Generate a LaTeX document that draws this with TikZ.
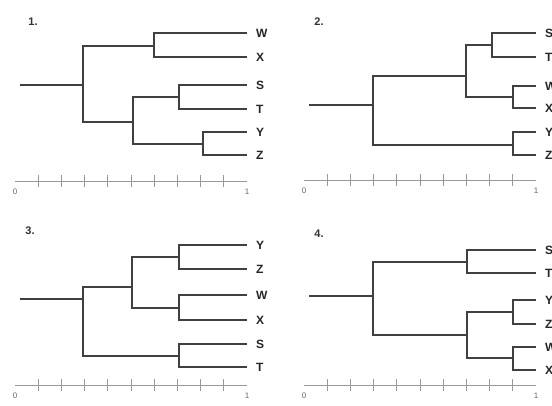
\documentclass[tikz,border=0pt]{standalone}
\usepackage{fontspec}
\setmainfont{Liberation Sans}
\begin{document}
\begin{tikzpicture}[x=1pt,y=-1pt,
  branch/.style={draw=black!75, line width=1.7pt},
  axisline/.style={draw=black!40, line width=0.9pt},
  leaflab/.style={anchor=west, inner xsep=9pt, inner ysep=0pt, text height=8.6pt, text depth=0pt, font=\fontsize{12}{12}\selectfont\bfseries, text=black!85},
  panellab/.style={inner sep=0pt, font=\fontsize{11}{11}\selectfont\bfseries, text=black!80},
  scalelab/.style={inner sep=0pt, font=\fontsize{8}{8}\selectfont, text=black!60}]
\useasboundingbox (0,0) rectangle (552,405);
\clip (0,0) rectangle (552,405);
\fill[white] (0,0) rectangle (552,405);

% ---------- panel 1 ----------
\node[panellab] (n1) at (33,22) {1.};
\node[leaflab] (aW) at (247,33) {W};
\node[leaflab] (aX) at (247,57) {X};
\node[leaflab] (aS) at (247,85) {S};
\node[leaflab] (aT) at (247,109) {T};
\node[leaflab] (aY) at (247,132) {Y};
\node[leaflab] (aZ) at (247,155) {Z};
\coordinate (aWX) at (154,46);
\coordinate (aST) at (179,97);
\coordinate (aYZ) at (203,144);
\coordinate (aB) at (133,122);
\coordinate (aR) at (83,85);
\coordinate (aT0) at (20,85);
\draw[branch] (aWX) |- (aW.west);
\draw[branch] (aWX) |- (aX.west);
\draw[branch] (aST) |- (aS.west);
\draw[branch] (aST) |- (aT.west);
\draw[branch] (aYZ) |- (aY.west);
\draw[branch] (aYZ) |- (aZ.west);
\draw[branch] (aB) |- (aST);
\draw[branch] (aB) |- (aYZ);
\draw[branch] (aR) |- (aWX);
\draw[branch] (aR) |- (aB);
\draw[branch] (aT0) -- (aR);

% ---------- panel 2 ----------
\node[panellab] (n2) at (319,22) {2.};
\node[leaflab] (bS) at (536,33) {S};
\node[leaflab] (bT) at (536,57) {T};
\node[leaflab] (bW) at (536,86) {W};
\node[leaflab] (bX) at (536,108) {X};
\node[leaflab] (bY) at (536,132) {Y};
\node[leaflab] (bZ) at (536,155) {Z};
\coordinate (bST) at (492,45);
\coordinate (bWX) at (513,97);
\coordinate (bYZ) at (513,145);
\coordinate (bA) at (466,76);
\coordinate (bR) at (373,105);
\coordinate (bT0) at (309,105);
\draw[branch] (bST) |- (bS.west);
\draw[branch] (bST) |- (bT.west);
\draw[branch] (bWX) |- (bW.west);
\draw[branch] (bWX) |- (bX.west);
\draw[branch] (bYZ) |- (bY.west);
\draw[branch] (bYZ) |- (bZ.west);
\draw[branch] (bA) |- (bST);
\draw[branch] (bA) |- (bWX);
\draw[branch] (bR) |- (bA);
\draw[branch] (bR) |- (bYZ);
\draw[branch] (bT0) -- (bR);

% ---------- panel 3 ----------
\node[panellab] (n3) at (30,231) {3.};
\node[leaflab] (cY) at (247,245) {Y};
\node[leaflab] (cZ) at (247,269) {Z};
\node[leaflab] (cW) at (247,295) {W};
\node[leaflab] (cX) at (247,320) {X};
\node[leaflab] (cS) at (247,344) {S};
\node[leaflab] (cT) at (247,367) {T};
\coordinate (cYZ) at (179,257);
\coordinate (cWX) at (179,308);
\coordinate (cST) at (179,356);
\coordinate (cA) at (132,287);
\coordinate (cR) at (83,299);
\coordinate (cT0) at (20,299);
\draw[branch] (cYZ) |- (cY.west);
\draw[branch] (cYZ) |- (cZ.west);
\draw[branch] (cWX) |- (cW.west);
\draw[branch] (cWX) |- (cX.west);
\draw[branch] (cST) |- (cS.west);
\draw[branch] (cST) |- (cT.west);
\draw[branch] (cA) |- (cYZ);
\draw[branch] (cA) |- (cWX);
\draw[branch] (cR) |- (cA);
\draw[branch] (cR) |- (cST);
\draw[branch] (cT0) -- (cR);

% ---------- panel 4 ----------
\node[panellab] (n4) at (319,234) {4.};
\node[leaflab] (dS) at (536,250) {S};
\node[leaflab] (dT) at (536,273) {T};
\node[leaflab] (dY) at (536,300) {Y};
\node[leaflab] (dZ) at (536,324) {Z};
\node[leaflab] (dW) at (536,347) {W};
\node[leaflab] (dX) at (536,370) {X};
\coordinate (dST) at (467,262);
\coordinate (dYZ) at (513,312);
\coordinate (dWX) at (513,358);
\coordinate (dB) at (467,335);
\coordinate (dR) at (373,296);
\coordinate (dT0) at (309,296);
\draw[branch] (dST) |- (dS.west);
\draw[branch] (dST) |- (dT.west);
\draw[branch] (dYZ) |- (dY.west);
\draw[branch] (dYZ) |- (dZ.west);
\draw[branch] (dWX) |- (dW.west);
\draw[branch] (dWX) |- (dX.west);
\draw[branch] (dB) |- (dYZ);
\draw[branch] (dB) |- (dWX);
\draw[branch] (dR) |- (dST);
\draw[branch] (dR) |- (dB);
\draw[branch] (dT0) -- (dR);

% ---------- scales ----------
\foreach \p/\x/\y in {a/15/181, b/304/180, c/15/385, d/304/385} {
  \coordinate (\p0) at (\x,\y);
  \coordinate (\p1) at (\x+232,\y);
  \draw[axisline] (\p0) -- (\p1);
  \foreach \k in {1,...,9}
    \draw[axisline] ([shift={(\k*23.2,-6)}]\p0) -- ([shift={(\k*23.2,6)}]\p0);
  \node[scalelab] (\p l0) at ([yshift=-11]\p0) {0};
  \node[scalelab] (\p l1) at ([yshift=-11]\p1) {1};
}
\end{tikzpicture}
\end{document}
